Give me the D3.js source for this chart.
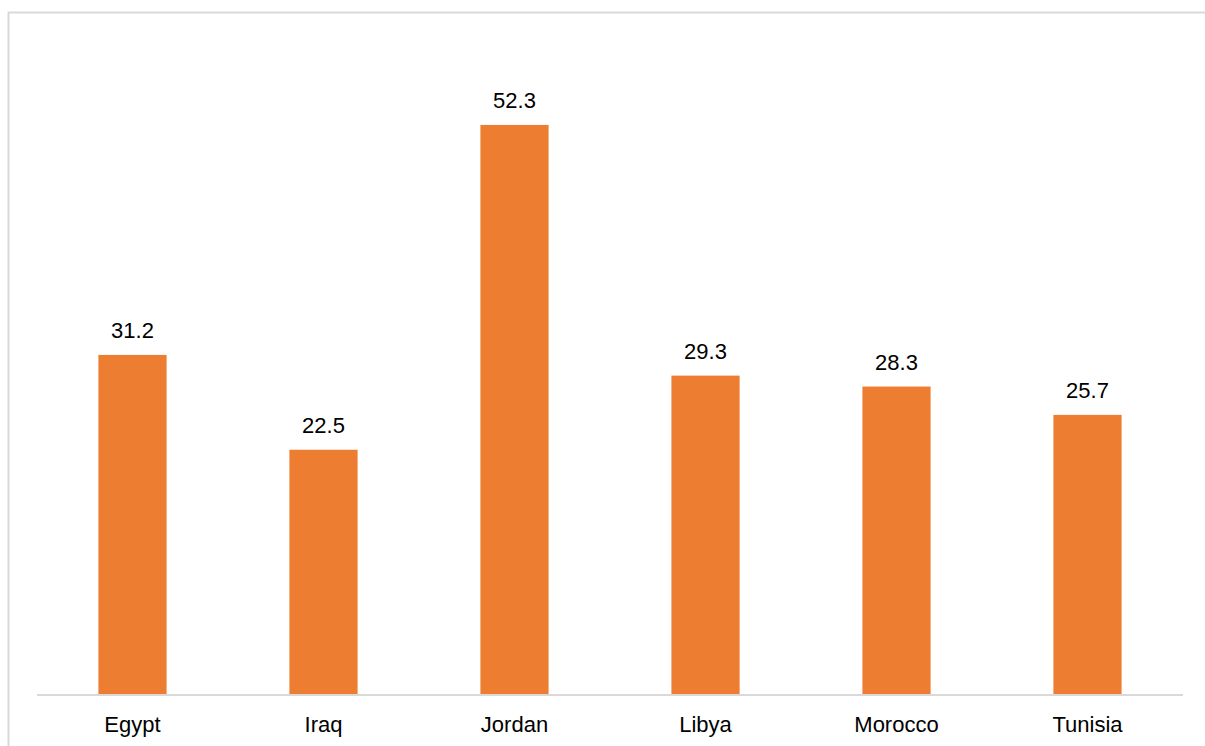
<!DOCTYPE html>
<html><head><meta charset="utf-8">
<script src="https://cdn.jsdelivr.net/npm/d3@7"></script>
<style>body{margin:0;background:#fff;}svg{display:block;}</style>
</head><body>
<script>
const categories = ["Egypt","Iraq","Jordan","Libya","Morocco","Tunisia"];
const values = [31.2,22.5,52.3,29.3,28.3,25.7];

const W = 1205, H = 746;
const svg = d3.select("body").append("svg").attr("width", W).attr("height", H);
svg.append("rect").attr("x", 8.5).attr("y", 12.5).attr("width", 1210).attr("height", 760)
  .attr("fill", "#fff").attr("stroke", "#d9d9d9").attr("stroke-width", 2);

const left = 37, right = 1183, base = 695;
const x = d3.scaleBand().domain(categories).range([left, right]).paddingInner(0.643).paddingOuter(0.3215);
const y = d3.scaleLinear().domain([0, 60]).range([base, base - 654]);

svg.selectAll("rect.bar").data(values).join("rect").attr("class","bar")
  .attr("x", (d,i) => x(categories[i])).attr("width", x.bandwidth())
  .attr("y", d => y(d)).attr("height", d => base - y(d)).attr("fill", "#ED7D31");

svg.append("line").attr("x1", left).attr("x2", right).attr("y1", base).attr("y2", base)
  .attr("stroke", "#d9d9d9").attr("stroke-width", 2);

svg.selectAll("text.val").data(values).join("text").attr("class","val")
  .attr("x", (d,i) => x(categories[i]) + x.bandwidth()/2).attr("y", d => y(d) - 17)
  .attr("text-anchor","middle").attr("font-family","Liberation Sans, Arial, sans-serif")
  .attr("font-size", 22).attr("fill","#000").text(d => d.toFixed(1));

svg.selectAll("text.cat").data(categories).join("text").attr("class","cat")
  .attr("x", d => x(d) + x.bandwidth()/2).attr("y", 732)
  .attr("text-anchor","middle").attr("font-family","Liberation Sans, Arial, sans-serif")
  .attr("font-size", 22).attr("fill","#000").text(d => d);
</script>
</body></html>
